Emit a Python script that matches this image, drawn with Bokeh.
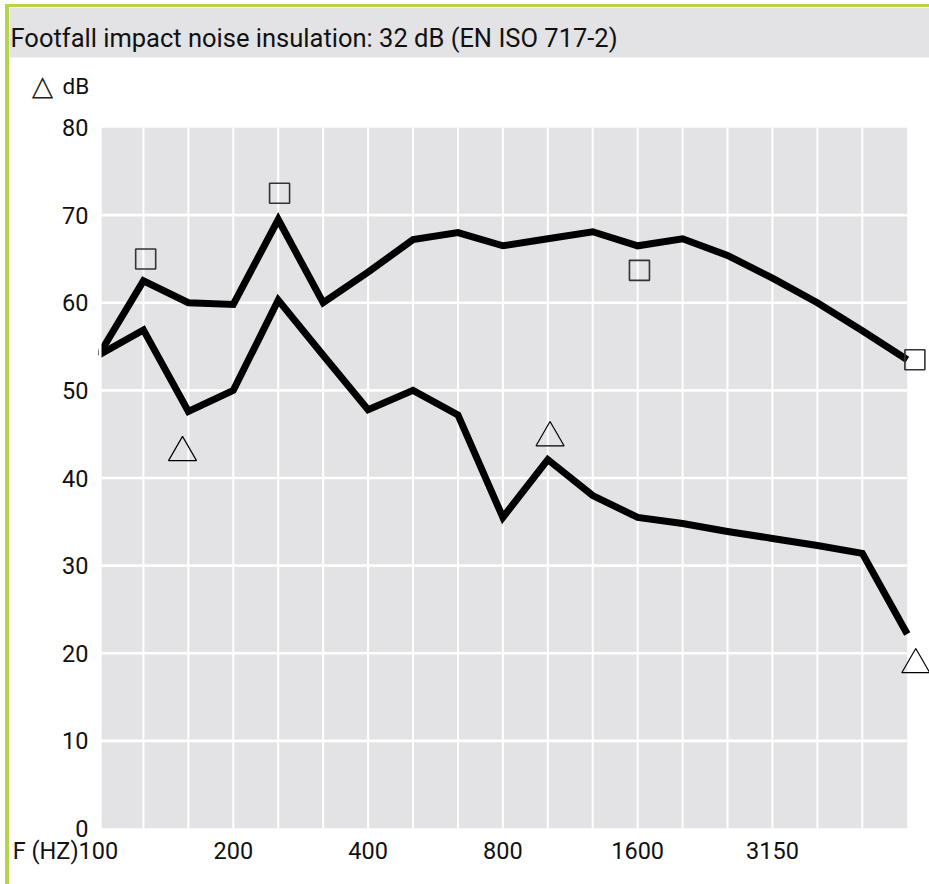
from bokeh.plotting import figure
from bokeh.models import ColumnDataSource, FixedTicker, Range1d
from bokeh.layouts import column
from bokeh.embed import file_html
from bokeh.resources import INLINE
from bokeh.core.properties import value

# ---------------- data ----------------
title_text = "Footfall impact noise insulation: 32 dB (EN ISO 717-2)"
band_index = list(range(19))  # one-third-octave band positions, 100 Hz at 0
upper_db = [54.0, 62.5, 60.0, 59.8, 69.5, 60.0, 63.5, 67.2, 68.0, 66.5,
            67.3, 68.1, 66.5, 67.3, 65.4, 62.8, 60.0, 56.8, 53.5]
lower_db = [54.0, 56.9, 47.6, 50.0, 60.3, 54.0, 47.8, 50.0, 47.2, 35.5,
            42.1, 38.0, 35.5, 34.8, 33.9, 33.1, 32.3, 31.4, 22.2]
square_x = [1.05, 4.03, 12.04, 18.17]
square_db = [65.0, 72.5, 63.7, 53.5]
triangle_x = [1.87, 10.05, 18.19]
triangle_db = [42.9, 44.6, 18.7]
x_tick_pos = [0, 3, 6, 9, 12, 15]
x_tick_labels = ["F (HZ)100", "200", "400", "800", "1600", "3150"]
y_ticks = [0, 10, 20, 30, 40, 50, 60, 70, 80]
v_grid = list(range(1, 18))
h_grid = [10, 20, 30, 40, 50, 60, 70]
y_unit_label = "dB"
y_unit_symbol = "\u25b3"

GRAY = "#e3e3e5"
GREEN = "#b6d34a"
FONT = "Roboto"
INK = "#111111"

# ---------------- header (title bar + unit label) ----------------
HW, HH = 920, 105
tp = figure(width=HW, height=HH, x_range=Range1d(0, HW), y_range=Range1d(0, HH),
            output_backend="svg", toolbar_location=None, min_border=0,
            x_axis_type=None, y_axis_type=None)
tp.frame_align = False
tp.grid.visible = False
tp.outline_line_color = None
tp.background_fill_color = "white"
tp.border_fill_color = "white"
tp.quad(left=[0], right=[HW], bottom=[HH - 50], top=[HH], fill_color=GRAY, line_color=None)
tp.text(x=[1], y=[HH - 30], text=[title_text], text_font=value(FONT),
        text_font_size="25.5px", text_baseline="alphabetic", text_color=INK)
tp.text(x=[33], y=[HH - 78], text=[y_unit_symbol], text_font=value("DejaVu Sans"),
        text_font_size="28px", text_baseline="middle", text_align="center",
        text_color="#222222")
tp.text(x=[53], y=[HH - 78], text=[y_unit_label], text_font=value(FONT),
        text_font_size="22.5px", text_baseline="middle", text_color=INK)

# ---------------- main chart ----------------
STEP = 44.93
FRAME_LEFT = 98
x1 = (929 - FRAME_LEFT) / STEP
p = figure(width=920, height=772, x_range=Range1d(0, x1), y_range=Range1d(0, 80),
           output_backend="svg", toolbar_location=None,
           min_border_left=FRAME_LEFT - 9, min_border_right=0,
           min_border_top=15, min_border_bottom=56)
p.frame_align = False
p.grid.visible = False
p.outline_line_color = None
p.background_fill_color = "white"
p.border_fill_color = "white"

gray_left = 3 / STEP
p.quad(left=[gray_left], right=[18], bottom=[0], top=[80], fill_color=GRAY, line_color=None)
p.segment(x0=v_grid, x1=v_grid, y0=[0] * len(v_grid), y1=[80] * len(v_grid),
          line_color="white", line_width=2)
p.segment(x0=[gray_left] * len(h_grid), x1=[18] * len(h_grid), y0=h_grid, y1=h_grid,
          line_color="white", line_width=2.6)

src = ColumnDataSource(dict(x=band_index, up=upper_db, lo=lower_db))
p.line("x", "up", source=src, line_color="black", line_width=7, line_join="miter")
p.line("x", "lo", source=src, line_color="black", line_width=7, line_join="miter")
# plot area starts a few pixels right of the first band
p.quad(left=[0], right=[gray_left], bottom=[0], top=[80], fill_color="white", line_color=None)

p.scatter(x=square_x, y=square_db, marker="square", size=20, fill_color=None,
          line_color="#333333", line_width=1.6)
p.scatter(x=triangle_x, y=triangle_db, marker="triangle", size=28, fill_color=None,
          line_color="black", line_width=1.2)

xa = p.xaxis[0]
xa.ticker = FixedTicker(ticks=x_tick_pos)
pad = "\u2007" * 5
xa.major_label_overrides = {t: (l + pad if i == 0 else l)
                            for i, (t, l) in enumerate(zip(x_tick_pos, x_tick_labels))}
ya = p.yaxis[0]
ya.ticker = FixedTicker(ticks=y_ticks)
for ax in (xa, ya):
    ax.axis_line_color = None
    ax.major_tick_line_color = None
    ax.minor_tick_line_color = None
    ax.major_tick_out = 0
    ax.major_tick_in = 0
    ax.major_label_text_font = FONT
    ax.major_label_text_font_size = "23.5px"
    ax.major_label_text_color = INK
xa.major_label_standoff = 8
ya.major_label_standoff = 10

layout = column(tp, p, styles={"margin-top": "4px", "margin-left": "5px",
                               "border-left": "4px solid " + GREEN,
                               "border-top": "3px solid " + GREEN})

open("out.html", "w").write(file_html(layout, INLINE))
